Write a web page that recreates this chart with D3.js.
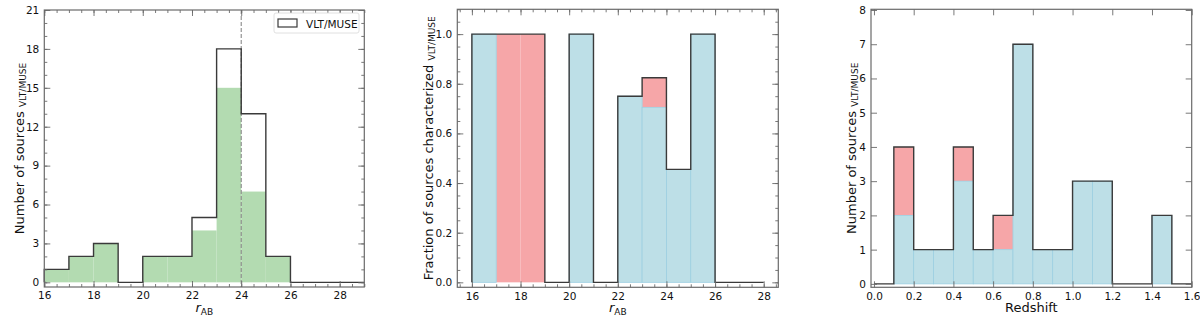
<!DOCTYPE html>
<html>
<head>
<meta charset="utf-8">
<script src="https://cdn.jsdelivr.net/npm/d3@7"></script>
<style>
  body { margin: 0; background: #fff; }
  svg { display: block; font-family: "DejaVu Sans", sans-serif; }
</style>
</head>
<body>
<div id="chart"></div>
<script>
// magnitude bins (left edges, width 1)
var magBins = [16, 17, 18, 19, 20, 21, 22, 23, 24, 25, 26, 27, 28];
var magTotal = [1, 2, 3, 0, 2, 2, 5, 18, 13, 2, 0, 0, 0];
var magGreen = [1, 2, 3, 0, 2, 2, 4, 15, 7, 2, 0, 0, 0];

// fraction characterized per magnitude bin
var fracBins = [16, 17, 18, 19, 20, 21, 22, 23, 24, 25, 26, 27];
var fracBlue = [1.0, 0, 0, 0, 1.0, 0, 0.75, 0.705, 0.455, 1.0, 0, 0];
var fracTotal = [1.0, 1.0, 1.0, 0, 1.0, 0, 0.75, 0.824, 0.455, 1.0, 0, 0];

// redshift bins (left edges, width 0.1)
var zBins = [0.0, 0.1, 0.2, 0.3, 0.4, 0.5, 0.6, 0.7, 0.8, 0.9, 1.0, 1.1, 1.2, 1.3, 1.4, 1.5];
var zBlue = [0, 2, 1, 1, 3, 1, 1, 7, 1, 1, 3, 3, 0, 0, 2, 0];
var zTotal = [0, 4, 1, 1, 4, 1, 2, 7, 1, 1, 3, 3, 0, 0, 2, 0];

var magTicks = [16, 18, 20, 22, 24, 26, 28];
var countTicks = [0, 3, 6, 9, 12, 15, 18, 21];
var fracTicks = [0, 0.2, 0.4, 0.6, 0.8, 1.0];
var zTicks = [0.0, 0.2, 0.4, 0.6, 0.8, 1.0, 1.2, 1.4, 1.6];
var zCountTicks = [0, 1, 2, 3, 4, 5, 6, 7, 8];

var W = 1200, H = 319;
var GREEN = '#b3dbb1', BLUE = '#bddfe7', BLUE_EDGE = '#9ccfe1', RED = '#f6a6a8';
var STEP = '#3a3a3a', FRAME = '#6a6a6a';

var svg = d3.select('#chart').append('svg')
    .attr('width', W).attr('height', H);

function panel(o){
    var g = svg.append('g'),
        x = d3.scaleLinear().domain(o.xDomain).range([o.left, o.right]),
        y = d3.scaleLinear().domain(o.yDomain).range([o.bottom, o.top]),
        w = o.right - o.left,
        h = o.bottom - o.top;

    //minor ticks first, then major with labels
    function ticks(axisFn, scale, values, size, fmt, tr, labels){
        var a = axisFn(scale).tickValues(values).tickSize(-size).tickPadding(5)
            .tickFormat(labels ? fmt : '');
        var t = g.append('g').attr('transform', tr).call(a);
        t.select('.domain').remove();
        t.selectAll('line').attr('stroke', FRAME).attr('stroke-width', 0.9);
        t.selectAll('text').attr('fill', '#111').style('font-size', '10.5px')
            .style('font-family', '"DejaVu Sans", sans-serif');
    }
    var bx = 'translate(0,' + o.bottom + ')', tx = 'translate(0,' + o.top + ')',
        ly = 'translate(' + o.left + ',0)', ry = 'translate(' + o.right + ',0)';

    //bars
    o.draw(g, x, y);

    if(o.xMinor){
        ticks(d3.axisBottom, x, o.xMinor, 3, null, bx, false);
        ticks(d3.axisTop, x, o.xMinor, 3, null, tx, false);
    }
    if(o.yMinor){
        ticks(d3.axisLeft, y, o.yMinor, 3, null, ly, false);
        ticks(d3.axisRight, y, o.yMinor, 3, null, ry, false);
    }
    ticks(d3.axisBottom, x, o.xTicks, 6, o.xFmt, bx, true);
    ticks(d3.axisTop, x, o.xTicks, 6, o.xFmt, tx, false);
    ticks(d3.axisLeft, y, o.yTicks, 6, o.yFmt, ly, true);
    ticks(d3.axisRight, y, o.yTicks, 6, o.yFmt, ry, false);

    g.append('rect')
        .attr('x', o.left).attr('y', o.top).attr('width', w).attr('height', h)
        .attr('fill', 'none').attr('stroke', FRAME).attr('stroke-width', 1.2);

    //y label with subscript
    var yl = g.append('text')
        .attr('transform', 'translate(' + o.yLabelX + ',' + (o.top + h / 2) + ') rotate(-90)')
        .attr('text-anchor', 'middle')
        .style('font-size', '13px').attr('fill', '#111');
    yl.append('tspan').text(o.yLabel + ' ');
    yl.append('tspan').text('VLT/MUSE').style('font-size', '9px').attr('dy', '0.25em');

    var xl = g.append('text')
        .attr('x', o.left + w / 2).attr('y', 312)
        .attr('text-anchor', 'middle')
        .style('font-size', '13px').attr('fill', '#111');
    if(o.xLabel === 'r'){
        xl.append('tspan').text('r').style('font-style', 'italic');
        xl.append('tspan').text('AB').style('font-size', '9px').attr('dy', '0.3em');
    } else {
        xl.text(o.xLabel);
    }
    return { g: g, x: x, y: y };
}

function stepLine(g, x, y, bins, vals, width){
    var pts = [[bins[0], 0]];
    bins.forEach(function(b, i){
        pts.push([b, vals[i]]);
        pts.push([b + width, vals[i]]);
    });
    pts.push([bins[bins.length - 1] + width, 0]);
    g.append('path')
        .attr('d', d3.line().x(function(d){ return x(d[0]); }).y(function(d){ return y(d[1]); })(pts))
        .attr('fill', 'none').attr('stroke', STEP).attr('stroke-width', 1.4);
}

function minorRange(a, b, s){
    var out = [];
    for(var v = a; v <= b + 1e-9; v += s){ out.push(+v.toFixed(4)); }
    return out;
}

// left panel: counts vs r_AB
var p1 = panel({
    left: 44.3, right: 364.3, top: 10, bottom: 287,
    xDomain: [16, 29], yDomain: [-0.36, 21],
    xTicks: magTicks, yTicks: countTicks,
    xMinor: minorRange(16, 29, 0.5), yMinor: minorRange(0, 21, 1),
    xFmt: d3.format('d'), yFmt: d3.format('d'),
    yLabel: 'Number of sources', yLabelX: 24, xLabel: 'r',
    draw: function(g, x, y){
        g.selectAll('rect.green').data(magBins).enter().append('rect')
            .attr('x', function(d){ return x(d); })
            .attr('width', function(d){ return x(d + 1) - x(d); })
            .attr('y', function(d, i){ return y(magGreen[i]); })
            .attr('height', function(d, i){ return y(0) - y(magGreen[i]); })
            .attr('fill', GREEN);
        g.append('line')
            .attr('x1', x(24)).attr('x2', x(24)).attr('y1', 10).attr('y2', 287)
            .attr('stroke', '#8a8a8a').attr('stroke-width', 1.1)
            .attr('stroke-dasharray', '4,2');
        stepLine(g, x, y, magBins, magTotal, 1);
    }
});

// legend
var lg = p1.g.append('g');
lg.append('rect').attr('x', 274).attr('y', 13).attr('width', 85).attr('height', 20)
    .attr('rx', 2).attr('fill', '#fff').attr('stroke', '#d8d8d8').attr('stroke-width', 0.8);
lg.append('rect').attr('x', 278).attr('y', 19).attr('width', 19).attr('height', 8)
    .attr('fill', 'none').attr('stroke', STEP).attr('stroke-width', 1.2);
lg.append('text').attr('x', 306).attr('y', 27.5).text('VLT/MUSE')
    .style('font-size', '10.5px').attr('fill', '#111');

// middle panel: fraction characterized
panel({
    left: 457.3, right: 778.3, top: 9.3, bottom: 287.3,
    xDomain: [15.4, 28.6], yDomain: [-0.02, 1.1],
    xTicks: magTicks, yTicks: fracTicks,
    xMinor: minorRange(15.5, 28.5, 0.5), yMinor: minorRange(0, 1.1, 0.05),
    xFmt: d3.format('d'), yFmt: d3.format('.1f'),
    yLabel: 'Fraction of sources characterized', yLabelX: 433, xLabel: 'r',
    draw: function(g, x, y){
        g.selectAll('rect.red').data(fracBins).enter().append('rect')
            .attr('x', function(d){ return x(d); })
            .attr('width', function(d){ return x(d + 1) - x(d); })
            .attr('y', function(d, i){ return y(fracTotal[i]); })
            .attr('height', function(d, i){ return y(fracBlue[i]) - y(fracTotal[i]); })
            .attr('fill', RED);
        g.selectAll('rect.blue').data(fracBins).enter().append('rect')
            .filter(function(d, i){ return fracBlue[i] > 0; })
            .attr('x', function(d){ return x(d); })
            .attr('width', function(d){ return x(d + 1) - x(d); })
            .attr('y', function(d){ return y(fracBlue[fracBins.indexOf(d)]); })
            .attr('height', function(d){ return y(0) - y(fracBlue[fracBins.indexOf(d)]); })
            .attr('fill', BLUE).attr('stroke', BLUE_EDGE).attr('stroke-width', 0.8);
        stepLine(g, x, y, fracBins, fracTotal, 1);
    }
});

// right panel: redshift
panel({
    left: 871, right: 1191.7, top: 9.3, bottom: 287.3,
    xDomain: [-0.015, 1.6], yDomain: [-0.1, 8.02],
    xTicks: zTicks, yTicks: zCountTicks,
    xFmt: d3.format('.1f'), yFmt: d3.format('d'),
    yLabel: 'Number of sources', yLabelX: 856, xLabel: 'Redshift',
    draw: function(g, x, y){
        g.selectAll('rect.red').data(zBins).enter().append('rect')
            .attr('x', function(d){ return x(d); })
            .attr('width', function(d){ return x(d + 0.1) - x(d); })
            .attr('y', function(d, i){ return y(zTotal[i]); })
            .attr('height', function(d, i){ return y(zBlue[i]) - y(zTotal[i]); })
            .attr('fill', RED);
        g.selectAll('rect.blue').data(zBins).enter().append('rect')
            .filter(function(d, i){ return zBlue[i] > 0; })
            .attr('x', function(d){ return x(d); })
            .attr('width', function(d){ return x(d + 0.1) - x(d); })
            .attr('y', function(d){ return y(zBlue[zBins.indexOf(d)]); })
            .attr('height', function(d){ return y(0) - y(zBlue[zBins.indexOf(d)]); })
            .attr('fill', BLUE).attr('stroke', BLUE_EDGE).attr('stroke-width', 0.8);
        stepLine(g, x, y, zBins, zTotal, 0.1);
    }
});
</script>
</body>
</html>
